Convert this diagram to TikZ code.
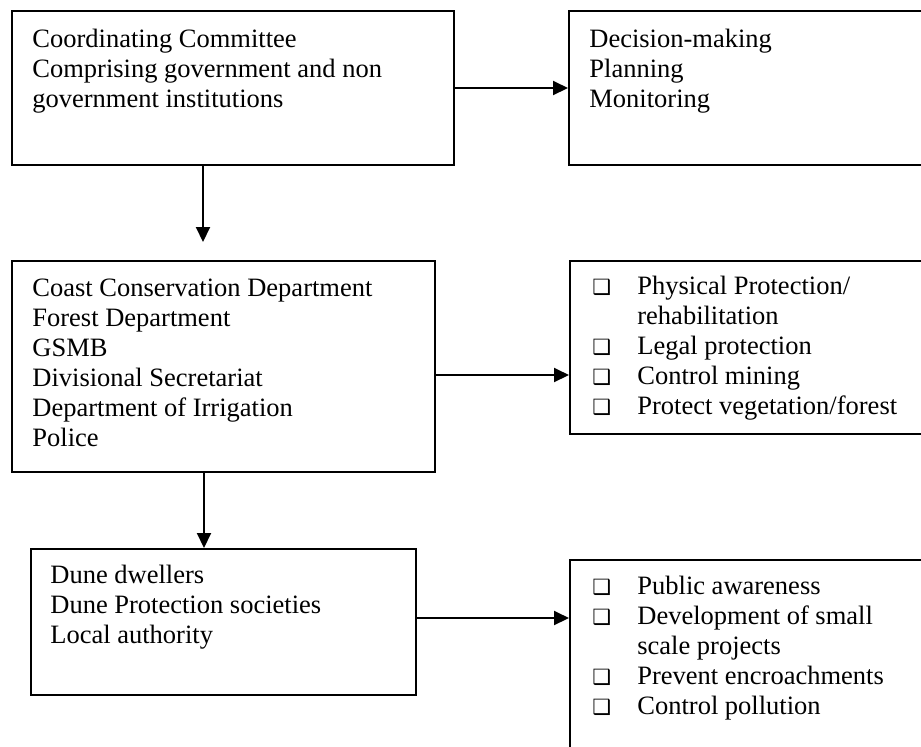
\documentclass[tikz,border=0pt]{standalone}
\usepackage{fontspec}
\setmainfont{Liberation Serif}
\newfontfamily\dejavu{DejaVu Sans}
\usetikzlibrary{arrows.meta, positioning, calc}
\newcommand\sq{{\dejavu\fontsize{10.5pt}{10.5pt}\selectfont ❑}}

\begin{document}
\begin{tikzpicture}[
      x=0.5pt, y=-0.5pt,
      box/.style={rectangle, draw, line width=1pt, anchor=north west, inner sep=0pt},
      txt/.style={anchor=north west, inner sep=0pt,
                  font=\fontsize{13.25pt}{15pt}\selectfont},
      arr/.style={line width=1pt, -{Triangle[length=7.5pt, width=7pt]}}
    ]
    \useasboundingbox (0,0) rectangle (921,746);
    \clip (0,0) rectangle (921,746);

    % left column
    \node[box, minimum width=221pt, minimum height=77pt] (coord) at (11,10) {};
    \node[box, minimum width=211.5pt, minimum height=105.5pt] (agency) at (11,260) {};
    \node[box, minimum width=192.5pt, minimum height=73pt] (local) at (30,548) {};

    % right column
    \node[box, minimum width=185pt, minimum height=77pt] (tasksA) at (568,10) {};
    \node[box, minimum width=185pt, minimum height=86.5pt] (tasksB) at (569,260) {};
    \node[box, minimum width=185pt, minimum height=110pt] (tasksC) at (569,559) {};

    % texts
    \node[txt] (coordT) at ([shift={(21,16)}]coord.north west)
      {\begin{tabular}{@{}l@{}}Coordinating Committee\\ Comprising government and non\\ government institutions\end{tabular}};
    \node[txt] (agencyT) at ([shift={(21,15)}]agency.north west)
      {\begin{tabular}{@{}l@{}}Coast Conservation Department\\ Forest Department\\ GSMB\\ Divisional Secretariat\\ Department of Irrigation\\ Police\end{tabular}};
    \node[txt] (localT) at ([shift={(20,14.5)}]local.north west)
      {\begin{tabular}{@{}l@{}}Dune dwellers\\ Dune Protection societies\\ Local authority\end{tabular}};
    \node[txt] (tasksAT) at ([shift={(21,16)}]tasksA.north west)
      {\begin{tabular}{@{}l@{}}Decision-making\\ Planning\\ Monitoring\end{tabular}};
    \node[txt] (tasksBT) at ([shift={(23,13.5)}]tasksB.north west)
      {\begin{tabular}{@{}p{22.5pt}@{}l@{}}\sq & Physical Protection/\\ & rehabilitation\\ \sq & Legal protection\\ \sq & Control mining\\ \sq & Protect vegetation/forest\end{tabular}};
    \node[txt] (tasksCT) at ([shift={(23,14.5)}]tasksC.north west)
      {\begin{tabular}{@{}p{22.5pt}@{}l@{}}\sq & Public awareness\\ \sq & Development of small\\ & scale projects\\ \sq & Prevent encroachments\\ \sq & Control pollution\end{tabular}};

    \draw[arr] (coord.east) -- (tasksA.west);
    \draw[arr, shorten >=9pt] ([xshift=96pt]coord.south west) -- ([xshift=96pt]coord.south west |- agency.north);
    \draw[arr] ([yshift=-4.25pt]agency.east) -- ([yshift=-4.25pt]agency.east -| tasksB.west);
    \draw[arr] ([xshift=96.5pt]agency.south west) -- ([xshift=96.5pt]agency.south west |- local.north);
    \draw[arr] ([yshift=2pt]local.east) -- ([yshift=2pt]local.east -| tasksC.west);

  \end{tikzpicture}
\end{document}
